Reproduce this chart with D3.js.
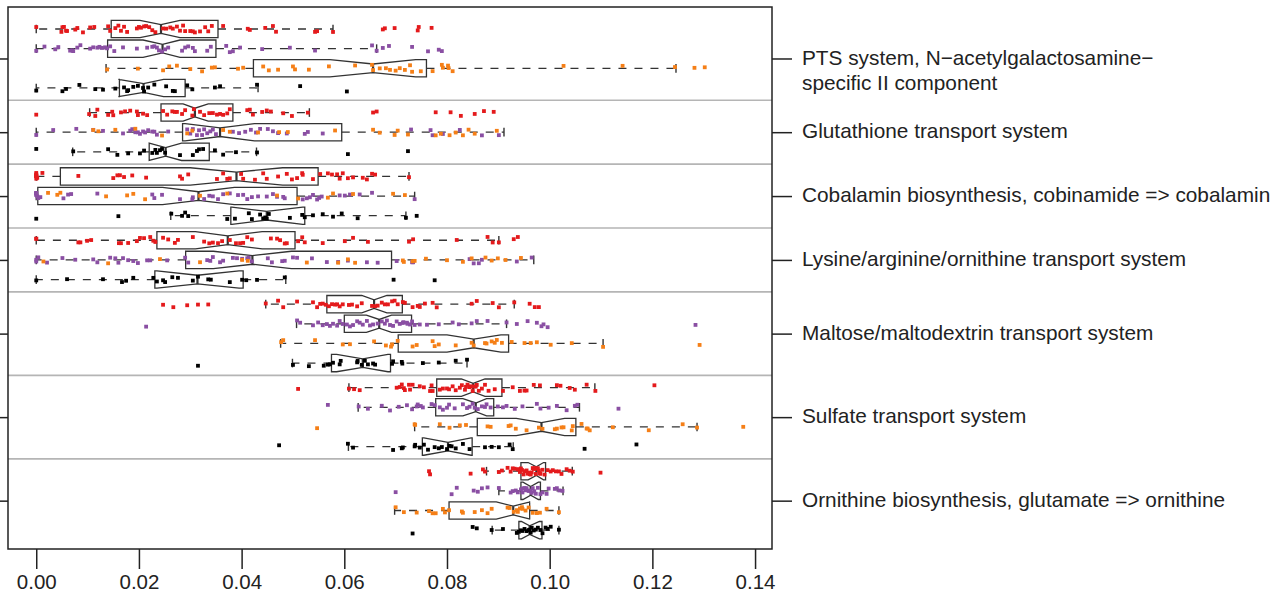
<!DOCTYPE html>
<html>
<head>
<meta charset="utf-8">
<script src="https://cdn.jsdelivr.net/npm/d3@7"></script>
<style>
  body { margin: 0; background: #fff; }
  text { font-family: "Liberation Sans", Arial, Helvetica, sans-serif; fill: #222; }
</style>
</head>
<body>
<div id="graph"></div>
<script>
// labels of the module groups (right side)
var groupLabels = [
  ["PTS system, N\u2212acetylgalactosamine\u2212", "specific II component"],
  ["Glutathione transport system"],
  ["Cobalamin biosynthesis, cobinamide => cobalamin"],
  ["Lysine/arginine/ornithine transport system"],
  ["Maltose/maltodextrin transport system"],
  ["Sulfate transport system"],
  ["Ornithine biosynthesis, glutamate => ornithine"]
];

// which group each box row belongs to
var rowGroup = [0,0,0,0, 1,1,1, 2,2,2, 3,3,3, 4,4,4,4, 5,5,5,5, 6,6,6,6];
var xTicks = [0, 0.02, 0.04, 0.06, 0.08, 0.10, 0.12, 0.14];

// box statistics, one value per row
var whiskerLo = [0.0000,0.0000,0.0136,0.0000, 0.0104,0.0000,0.0071, 0.0000,0.0000,0.0262, 0.0000,0.0000,0.0000, 0.0447,0.0507,0.0476,0.0499, 0.0609,0.0627,0.0737,0.0608, 0.0877,0.0901,0.0698,0.0888];
var boxQ1     = [0.0146,0.0139,0.0423,0.0162, 0.0243,0.0285,0.0220, 0.0047,0.0003,0.0379, 0.0235,0.0291,0.0231, 0.0566,0.0600,0.0705,0.0575, 0.0780,0.0778,0.0859,0.0752, 0.0944,0.0944,0.0804,0.0940];
var boxMed    = [0.0243,0.0246,0.0656,0.0209, 0.0309,0.0358,0.0252, 0.0390,0.0316,0.0449, 0.0373,0.0421,0.0314, 0.0658,0.0668,0.0852,0.0636, 0.0851,0.0856,0.0984,0.0802, 0.0974,0.0963,0.0929,0.0961];
var boxQ3     = [0.0354,0.0350,0.0760,0.0290, 0.0383,0.0595,0.0337, 0.0549,0.0508,0.0523, 0.0504,0.0692,0.0403, 0.0713,0.0731,0.0920,0.0690, 0.0907,0.0891,0.1051,0.0849, 0.0992,0.0982,0.0961,0.0985];
var whiskerHi = [0.0578,0.0663,0.1246,0.0432, 0.0532,0.0911,0.0429, 0.0726,0.0737,0.0720, 0.0901,0.0969,0.0486, 0.0931,0.0916,0.1104,0.0839, 0.1088,0.1058,0.1287,0.0929, 0.1044,0.1026,0.1018,0.1018];
var notchLo   = [0.0202,0.0208,0.0572,0.0160, 0.0286,0.0290,0.0220, 0.0300,0.0246,0.0381, 0.0310,0.0345,0.0235, 0.0634,0.0643,0.0800,0.0585, 0.0828,0.0831,0.0935,0.0755, 0.0958,0.0948,0.0896,0.0945];
var notchHi   = [0.0280,0.0280,0.0739,0.0248, 0.0335,0.0425,0.0283, 0.0480,0.0386,0.0519, 0.0440,0.0497,0.0395, 0.0683,0.0692,0.0905,0.0685, 0.0874,0.0877,0.1029,0.0847, 0.0988,0.0978,0.0962,0.0980];

// individual values per row
var g1Red = [0.0000,0.0049,0.0051,0.0054,0.0058,0.0060,0.0076,0.0080,0.0091,0.0105,0.0113,0.0140,0.0144,0.0154,0.0160,0.0165,0.0171,0.0177,0.0196,0.0200,0.0204,0.0210,0.0214,0.0220,0.0226,0.0232,0.0247,0.0253,0.0261,0.0266,0.0274,0.0280,0.0286,0.0290,0.0300,0.0305,0.0309,0.0319,0.0329,0.0335,0.0342,0.0364,0.0412,0.0416,0.0446,0.0461,0.0467,0.0543,0.0547,0.0578,0.0675,0.0679,0.0698,0.0743,0.0745,0.0770];
var g1Purple = [0.0000,0.0016,0.0037,0.0043,0.0066,0.0070,0.0072,0.0080,0.0086,0.0105,0.0111,0.0119,0.0123,0.0128,0.0134,0.0138,0.0144,0.0152,0.0169,0.0196,0.0216,0.0226,0.0230,0.0235,0.0239,0.0245,0.0251,0.0257,0.0284,0.0290,0.0296,0.0305,0.0309,0.0333,0.0340,0.0370,0.0377,0.0383,0.0397,0.0440,0.0494,0.0543,0.0654,0.0663,0.0675,0.0687,0.0732,0.0763,0.0784,0.0790];
var g1Orange = [0.0138,0.0198,0.0247,0.0259,0.0274,0.0300,0.0323,0.0342,0.0348,0.0393,0.0403,0.0442,0.0453,0.0471,0.0500,0.0504,0.0531,0.0570,0.0621,0.0654,0.0656,0.0669,0.0681,0.0689,0.0700,0.0708,0.0718,0.0728,0.0732,0.0749,0.0772,0.0790,0.0792,0.0802,0.0803,0.0811,0.1027,0.1142,0.1244,0.1282,0.1302];
var g1Black = [0.0000,0.0051,0.0058,0.0084,0.0115,0.0130,0.0154,0.0171,0.0177,0.0179,0.0189,0.0198,0.0208,0.0210,0.0218,0.0230,0.0253,0.0266,0.0270,0.0294,0.0304,0.0348,0.0358,0.0430,0.0514,0.0605];

var g2Red = [0.0000,0.0103,0.0115,0.0119,0.0140,0.0148,0.0150,0.0165,0.0173,0.0183,0.0196,0.0198,0.0208,0.0216,0.0247,0.0255,0.0265,0.0270,0.0274,0.0284,0.0290,0.0304,0.0307,0.0319,0.0327,0.0337,0.0344,0.0352,0.0358,0.0364,0.0372,0.0377,0.0411,0.0416,0.0422,0.0440,0.0449,0.0457,0.0481,0.0498,0.0529,0.0656,0.0663,0.0778,0.0807,0.0827,0.0854,0.0872,0.0891];
var g2Purple = [0.0000,0.0033,0.0078,0.0111,0.0130,0.0169,0.0183,0.0187,0.0193,0.0198,0.0202,0.0208,0.0212,0.0218,0.0226,0.0230,0.0235,0.0257,0.0294,0.0300,0.0305,0.0313,0.0317,0.0323,0.0327,0.0333,0.0339,0.0344,0.0350,0.0383,0.0395,0.0407,0.0418,0.0428,0.0436,0.0451,0.0461,0.0471,0.0488,0.0523,0.0529,0.0558,0.0730,0.0768,0.0772,0.0792,0.0825,0.0868,0.0901];
var g2Orange = [0.0111,0.0121,0.0154,0.0193,0.0245,0.0294,0.0304,0.0364,0.0377,0.0432,0.0473,0.0490,0.0582,0.0656,0.0669,0.0698,0.0704,0.0724,0.0778,0.0788,0.0805,0.0817,0.0831,0.0842,0.0854,0.0897];
var g2Black = [0.0000,0.0072,0.0140,0.0158,0.0179,0.0202,0.0210,0.0226,0.0232,0.0235,0.0241,0.0245,0.0251,0.0280,0.0305,0.0313,0.0317,0.0325,0.0348,0.0364,0.0389,0.0430,0.0607,0.0724];

var g3Red = [0.0000,0.0000,0.0000,0.0000,0.0000,0.0000,0.0000,0.0002,0.0012,0.0082,0.0150,0.0158,0.0163,0.0171,0.0187,0.0214,0.0280,0.0284,0.0296,0.0352,0.0364,0.0372,0.0377,0.0399,0.0403,0.0426,0.0442,0.0449,0.0471,0.0488,0.0498,0.0508,0.0518,0.0519,0.0539,0.0553,0.0568,0.0576,0.0586,0.0591,0.0597,0.0607,0.0617,0.0636,0.0644,0.0654,0.0660,0.0726];
var g3Purple = [0.0000,0.0000,0.0000,0.0000,0.0000,0.0002,0.0004,0.0008,0.0053,0.0062,0.0068,0.0119,0.0226,0.0230,0.0245,0.0280,0.0304,0.0305,0.0327,0.0337,0.0344,0.0354,0.0364,0.0377,0.0393,0.0403,0.0411,0.0420,0.0432,0.0449,0.0461,0.0469,0.0481,0.0484,0.0519,0.0527,0.0533,0.0539,0.0547,0.0551,0.0556,0.0591,0.0601,0.0611,0.0630,0.0654,0.0737];
var g3Orange = [0.0023,0.0041,0.0047,0.0136,0.0177,0.0189,0.0212,0.0319,0.0372,0.0469,0.0510,0.0568,0.0578,0.0617,0.0695,0.0718];
var g3Black = [0.0000,0.0160,0.0263,0.0284,0.0290,0.0296,0.0372,0.0387,0.0414,0.0420,0.0436,0.0442,0.0446,0.0449,0.0453,0.0494,0.0518,0.0523,0.0539,0.0558,0.0578,0.0595,0.0626,0.0720,0.0741];

var g4Red = [0.0000,0.0000,0.0082,0.0086,0.0099,0.0107,0.0161,0.0165,0.0179,0.0196,0.0202,0.0210,0.0222,0.0228,0.0232,0.0247,0.0257,0.0270,0.0276,0.0305,0.0327,0.0337,0.0344,0.0354,0.0362,0.0377,0.0389,0.0397,0.0403,0.0411,0.0420,0.0457,0.0469,0.0475,0.0484,0.0488,0.0510,0.0518,0.0523,0.0558,0.0601,0.0617,0.0646,0.0726,0.0734,0.0819,0.0879,0.0889,0.0901,0.0930,0.0938];
var g4Purple = [0.0000,0.0000,0.0004,0.0021,0.0051,0.0076,0.0111,0.0119,0.0144,0.0154,0.0160,0.0169,0.0179,0.0189,0.0198,0.0216,0.0222,0.0255,0.0290,0.0296,0.0333,0.0339,0.0344,0.0358,0.0364,0.0383,0.0391,0.0401,0.0411,0.0414,0.0420,0.0451,0.0459,0.0479,0.0484,0.0500,0.0508,0.0537,0.0566,0.0588,0.0607,0.0644,0.0665,0.0702,0.0732,0.0734,0.0844,0.0852,0.0862,0.0868,0.0936,0.0965];
var g4Orange = [0.0014,0.0140,0.0241,0.0319,0.0401,0.0412,0.0527,0.0588,0.0607,0.0621,0.0714,0.0716,0.0733,0.0737,0.0759,0.0800,0.0831,0.0848,0.0875,0.0887,0.0899,0.0914,0.0944];
var g4Black = [0.0000,0.0060,0.0130,0.0167,0.0175,0.0189,0.0228,0.0235,0.0247,0.0251,0.0265,0.0276,0.0305,0.0315,0.0335,0.0340,0.0377,0.0401,0.0409,0.0430,0.0484,0.0696,0.0776];

var g5Red = [0.0247,0.0267,0.0294,0.0315,0.0335,0.0447,0.0471,0.0481,0.0508,0.0539,0.0547,0.0553,0.0558,0.0564,0.0570,0.0576,0.0582,0.0586,0.0591,0.0597,0.0609,0.0615,0.0625,0.0634,0.0654,0.0660,0.0665,0.0673,0.0679,0.0685,0.0693,0.0698,0.0704,0.0714,0.0718,0.0733,0.0743,0.0747,0.0757,0.0772,0.0780,0.0848,0.0858,0.0889,0.0901,0.0931,0.0961,0.0971,0.0979];
var g5Purple = [0.0214,0.0508,0.0514,0.0539,0.0549,0.0558,0.0566,0.0572,0.0578,0.0586,0.0591,0.0597,0.0605,0.0611,0.0617,0.0625,0.0630,0.0636,0.0644,0.0650,0.0656,0.0665,0.0673,0.0679,0.0683,0.0689,0.0695,0.0702,0.0708,0.0714,0.0715,0.0722,0.0723,0.0728,0.0732,0.0737,0.0747,0.0761,0.0784,0.0811,0.0823,0.0848,0.0858,0.0879,0.0916,0.0936,0.0957,0.0975,0.0984,0.0988,0.0996,0.1284];
var g5Orange = [0.0477,0.0481,0.0543,0.0597,0.0611,0.0658,0.0681,0.0691,0.0693,0.0704,0.0733,0.0741,0.0772,0.0776,0.0784,0.0817,0.0848,0.0852,0.0874,0.0877,0.0887,0.0893,0.0897,0.0907,0.0926,0.0951,0.0963,0.0975,0.1002,0.1043,0.1104,0.1292];
var g5Black = [0.0315,0.0500,0.0531,0.0560,0.0568,0.0572,0.0578,0.0591,0.0593,0.0625,0.0626,0.0634,0.0640,0.0646,0.0656,0.0660,0.0693,0.0695,0.0712,0.0713,0.0753,0.0784,0.0817,0.0839];

var g6Red = [0.0510,0.0609,0.0619,0.0630,0.0702,0.0708,0.0712,0.0716,0.0718,0.0726,0.0728,0.0733,0.0747,0.0755,0.0767,0.0770,0.0772,0.0786,0.0792,0.0800,0.0804,0.0811,0.0817,0.0825,0.0829,0.0835,0.0837,0.0840,0.0844,0.0846,0.0850,0.0852,0.0856,0.0858,0.0862,0.0868,0.0874,0.0881,0.0893,0.0909,0.0928,0.0942,0.0951,0.0955,0.0969,0.0981,0.1014,0.1021,0.1039,0.1049,0.1072,0.1089,0.1204];
var g6Purple = [0.0568,0.0628,0.0646,0.0673,0.0689,0.0706,0.0722,0.0732,0.0741,0.0743,0.0749,0.0753,0.0770,0.0776,0.0786,0.0792,0.0800,0.0804,0.0815,0.0831,0.0839,0.0844,0.0850,0.0854,0.0860,0.0868,0.0874,0.0877,0.0885,0.0899,0.0909,0.0916,0.0932,0.0947,0.0975,0.0982,0.0998,0.1014,0.1033,0.1049,0.1054,0.1134];
var g6Orange = [0.0547,0.0737,0.0738,0.0786,0.0805,0.0825,0.0837,0.0879,0.0885,0.0920,0.0924,0.0934,0.0955,0.0979,0.0986,0.1010,0.1014,0.1023,0.1027,0.1043,0.1045,0.1062,0.1072,0.1074,0.1078,0.1123,0.1193,0.1259,0.1287,0.1377];
var g6Black = [0.0473,0.0607,0.0617,0.0695,0.0712,0.0714,0.0737,0.0738,0.0747,0.0755,0.0763,0.0776,0.0784,0.0790,0.0800,0.0805,0.0809,0.0817,0.0831,0.0844,0.0874,0.0887,0.0901,0.0922,0.0928,0.1068,0.1169];

var g7Red = [0.0765,0.0767,0.0846,0.0870,0.0874,0.0901,0.0907,0.0918,0.0924,0.0928,0.0932,0.0938,0.0940,0.0942,0.0944,0.0946,0.0949,0.0951,0.0955,0.0957,0.0959,0.0961,0.0963,0.0965,0.0967,0.0969,0.0971,0.0973,0.0975,0.0977,0.0979,0.0981,0.0982,0.0986,0.0990,0.0996,0.1002,0.1006,0.1012,0.1018,0.1023,0.1033,0.1039,0.1045,0.1099];
var g7Purple = [0.0700,0.0809,0.0819,0.0852,0.0860,0.0868,0.0879,0.0901,0.0924,0.0928,0.0934,0.0938,0.0944,0.0947,0.0948,0.0951,0.0953,0.0955,0.0959,0.0961,0.0963,0.0965,0.0967,0.0970,0.0973,0.0977,0.0982,0.0986,0.0994,0.0998,0.1010,0.1014,0.1019,0.1025];
var g7Orange = [0.0700,0.0716,0.0741,0.0765,0.0772,0.0778,0.0792,0.0796,0.0804,0.0829,0.0831,0.0854,0.0868,0.0879,0.0887,0.0918,0.0922,0.0930,0.0936,0.0938,0.0942,0.0946,0.0947,0.0953,0.0959,0.0967,0.0975,0.0981,0.0994,0.1018];
var g7Black = [0.0733,0.0850,0.0858,0.0887,0.0909,0.0936,0.0940,0.0944,0.0947,0.0951,0.0955,0.0959,0.0961,0.0963,0.0965,0.0969,0.0973,0.0977,0.0982,0.0986,0.0992,0.0996,0.1002,0.1018];

// points drawn on each row: [values, series]
var rowPoints = [
  [[g1Red,"red"]], [[g1Purple,"purple"]], [[g1Orange,"orange"]], [[g1Black,"black"]],
  [[g2Red,"red"]], [[g2Purple,"purple"],[g2Orange,"orange"]], [[g2Black,"black"]],
  [[g3Red,"red"]], [[g3Purple,"purple"],[g3Orange,"orange"]], [[g3Black,"black"]],
  [[g4Red,"red"]], [[g4Purple,"purple"],[g4Orange,"orange"]], [[g4Black,"black"]],
  [[g5Red,"red"]], [[g5Purple,"purple"]], [[g5Orange,"orange"]], [[g5Black,"black"]],
  [[g6Red,"red"]], [[g6Purple,"purple"]], [[g6Orange,"orange"]], [[g6Black,"black"]],
  [[g7Red,"red"]], [[g7Purple,"purple"]], [[g7Orange,"orange"]], [[g7Black,"black"]]
];

var seriesColor = {red: "#E41A1C", purple: "#8A4FA3", orange: "#F57F17", black: "#000000"};
var lineColor = "#333";

var width = 1274, height = 592;

var svg = d3.select("#graph").append("svg")
    .attr("width", width)
    .attr("height", height);

// x: value, y: row slot (groups separated by a small gap)
var x = d3.scaleLinear().domain([-0.0055, 0.1433]).range([8, 772]);
var slots = rowGroup.map(function(g, i) { return i + 0.25 * g; });
var y = d3.scaleLinear().domain([-1.12, 26.46]).range([7, 549]);

var step = y(1) - y(0);
var boxHalf = 0.44 * step;

// group separators
var seps = d3.range(1, groupLabels.length).map(function(g) {
  var last = d3.max(slots.filter(function(s, i) { return rowGroup[i] == g - 1; }));
  var first = d3.min(slots.filter(function(s, i) { return rowGroup[i] == g; }));
  return (last + first) / 2;
});
svg.selectAll(".sep")
  .data(seps)
  .enter().append("line")
  .attr("class", "sep")
  .attr("x1", x.range()[0]).attr("x2", x.range()[1])
  .attr("y1", function(d) { return y(d); })
  .attr("y2", function(d) { return y(d); })
  .attr("stroke", "#b5b5b5")
  .attr("stroke-width", 1.6);

// boxes
var rows = slots.map(function(s, i) { return i; });
var box = svg.selectAll(".box")
  .data(rows)
  .enter().append("g")
  .attr("class", "box");

// dashed whiskers
box.append("line")
  .attr("x1", function(i) { return x(boxQ1[i]); })
  .attr("x2", function(i) { return x(whiskerLo[i]); })
  .attr("y1", function(i) { return y(slots[i]); })
  .attr("y2", function(i) { return y(slots[i]); })
  .attr("stroke", lineColor).attr("stroke-width", 1.3)
  .attr("stroke-dasharray", "8,8");
box.append("line")
  .attr("x1", function(i) { return x(boxQ3[i]); })
  .attr("x2", function(i) { return x(whiskerHi[i]); })
  .attr("y1", function(i) { return y(slots[i]); })
  .attr("y2", function(i) { return y(slots[i]); })
  .attr("stroke", lineColor).attr("stroke-width", 1.3)
  .attr("stroke-dasharray", "8,8");

// staples
[whiskerLo, whiskerHi].forEach(function(arr) {
  box.append("line")
    .attr("x1", function(i) { return x(arr[i]); })
    .attr("x2", function(i) { return x(arr[i]); })
    .attr("y1", function(i) { return y(slots[i]) - boxHalf / 2; })
    .attr("y2", function(i) { return y(slots[i]) + boxHalf / 2; })
    .attr("stroke", lineColor).attr("stroke-width", 1.4);
});

// notched box outline
box.append("path")
  .attr("d", function(i) {
    var c = y(slots[i]), w = boxHalf;
    var p = d3.path();
    p.moveTo(x(boxQ1[i]), c - w);
    p.lineTo(x(notchLo[i]), c - w);
    p.lineTo(x(boxMed[i]), c - w / 2);
    p.lineTo(x(notchHi[i]), c - w);
    p.lineTo(x(boxQ3[i]), c - w);
    p.lineTo(x(boxQ3[i]), c + w);
    p.lineTo(x(notchHi[i]), c + w);
    p.lineTo(x(boxMed[i]), c + w / 2);
    p.lineTo(x(notchLo[i]), c + w);
    p.lineTo(x(boxQ1[i]), c + w);
    p.closePath();
    return p.toString();
  })
  .attr("fill", "none")
  .attr("stroke", lineColor)
  .attr("stroke-width", 1.3);

// median
box.append("line")
  .attr("x1", function(i) { return x(boxMed[i]); })
  .attr("x2", function(i) { return x(boxMed[i]); })
  .attr("y1", function(i) { return y(slots[i]) - boxHalf / 2; })
  .attr("y2", function(i) { return y(slots[i]) + boxHalf / 2; })
  .attr("stroke", lineColor).attr("stroke-width", 2.2);

// jittered points (fixed hash offset, so the picture is stable)
var pts = [];
rowPoints.forEach(function(list, i) {
  list.forEach(function(pair, k) {
    pair[0].forEach(function(v, j) {
      pts.push({row: i, value: v, series: pair[1], n: i * 1000 + k * 400 + j});
    });
  });
});
function jitter(n) {
  var h = Math.imul(n + 1, 2654435761) >>> 0;
  h = Math.imul(h ^ (h >>> 15), 2246822519) >>> 0;
  h = (h ^ (h >>> 13)) >>> 0;
  return (h % 1000) / 999 - 0.5;
}
var sz = 3.8;
svg.selectAll(".pt")
  .data(pts)
  .enter().append("rect")
  .attr("class", "pt")
  .attr("x", function(d) { return x(d.value) - sz / 2; })
  .attr("y", function(d) { return y(slots[d.row]) + jitter(d.n) * 7 - sz / 2; })
  .attr("width", sz).attr("height", sz)
  .attr("fill", function(d) { return seriesColor[d.series]; });

// frame
svg.append("rect")
  .attr("x", x.range()[0]).attr("y", y.range()[0])
  .attr("width", x.range()[1] - x.range()[0])
  .attr("height", y.range()[1] - y.range()[0])
  .attr("fill", "none")
  .attr("stroke", "#222")
  .attr("stroke-width", 1.5);

// x axis
var xAxis = svg.append("g")
  .attr("transform", "translate(0," + y.range()[1] + ")")
  .call(d3.axisBottom(x).tickValues(xTicks).tickSize(20).tickPadding(5).tickFormat(d3.format(".2f")));
xAxis.select(".domain").remove();
xAxis.selectAll("line").attr("stroke", "#222").attr("stroke-width", 1.5);
xAxis.selectAll("text").style("font-size", "20.5px").style("font-family", "Liberation Sans, Arial, sans-serif").attr("fill", "#222");

// group ticks on both sides
var centers = groupLabels.map(function(l, g) {
  return d3.mean(slots.filter(function(s, i) { return rowGroup[i] == g; }));
});
var leftAxis = svg.append("g")
  .attr("transform", "translate(" + x.range()[0] + ",0)")
  .call(d3.axisLeft(y).tickValues(centers).tickSize(20).tickFormat(""));
leftAxis.select(".domain").remove();
leftAxis.selectAll("line").attr("stroke", "#222").attr("stroke-width", 1.5);

var rightAxis = svg.append("g")
  .attr("transform", "translate(" + x.range()[1] + ",0)")
  .call(d3.axisRight(y).tickValues(centers).tickSize(20).tickFormat(""));
rightAxis.select(".domain").remove();
rightAxis.selectAll("line").attr("stroke", "#222").attr("stroke-width", 1.5);

// group labels
var lab = svg.selectAll(".glabel")
  .data(groupLabels)
  .enter().append("text")
  .attr("class", "glabel")
  .attr("x", x.range()[1] + 30)
  .attr("y", function(d, g) { return y(centers[g]); })
  .style("font-size", "20.8px");
lab.selectAll("tspan")
  .data(function(d) { return d; })
  .enter().append("tspan")
  .attr("x", x.range()[1] + 30)
  .attr("dy", function(d, k) { return k == 0 ? "0.3em" : "1.2em"; })
  .text(function(d) { return d; });
</script>
</body>
</html>
